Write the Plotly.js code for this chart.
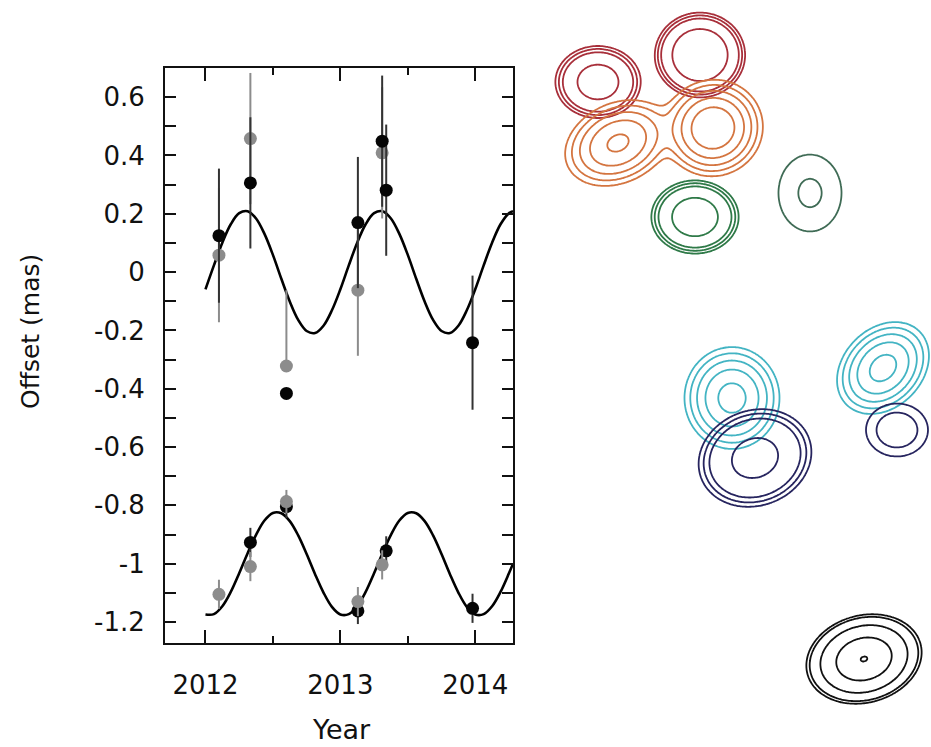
<!DOCTYPE html>
<html><head><meta charset="utf-8">
<script src="https://cdn.plot.ly/plotly-3.0.1.min.js"></script>
<style>html,body{margin:0;padding:0;background:#fff;}#chart{width:931px;height:747px;}</style>
</head><body><div id="chart"></div>
<script>
// ---------- time series data ----------
const yearsBlackTop  = [2012.10, 2012.333, 2012.60, 2013.13, 2013.31, 2013.34, 2013.98];
const offsetBlackTop = [0.125, 0.306, -0.416, 0.170, 0.449, 0.281, -0.242];
const errBlackTopPlus  = [0.23, 0.225, 0, 0.225, 0.225, 0.225, 0.23];
const errBlackTopMinus = [0.23, 0.225, 0, 0.225, 0.225, 0.225, 0.23];

const yearsGrayTop  = [2012.10, 2012.333, 2012.60, 2013.13, 2013.31];
const offsetGrayTop = [0.058, 0.458, -0.322, -0.062, 0.409];
const errGrayTopPlus  = [0.23, 0.225, 0.26, 0.225, 0.225];
const errGrayTopMinus = [0.23, 0.225, 0, 0.225, 0.225];

const yearsBlackLow  = [2012.333, 2012.60, 2013.13, 2013.34, 2013.98];
const offsetBlackLow = [-0.927, -0.804, -1.162, -0.956, -1.153];
const errBlackLow    = [0.05, 0.04, 0.045, 0.05, 0.05];

const yearsGrayLow  = [2012.10, 2012.333, 2012.60, 2013.13, 2013.31];
const offsetGrayLow = [-1.105, -1.010, -0.787, -1.130, -1.004];
const errGrayLow    = [0.05, 0.05, 0.04, 0.05, 0.05];

// model curves, every 1/16 year
const curveYears = [2012.0, 2012.0625, 2012.125, 2012.1875, 2012.25, 2012.3125, 2012.375, 2012.4375,
  2012.5, 2012.5625, 2012.625, 2012.6875, 2012.75, 2012.8125, 2012.875, 2012.9375,
  2013.0, 2013.0625, 2013.125, 2013.1875, 2013.25, 2013.3125, 2013.375, 2013.4375,
  2013.5, 2013.5625, 2013.625, 2013.6875, 2013.75, 2013.8125, 2013.875, 2013.9375,
  2014.0, 2014.0625, 2014.125, 2014.1875, 2014.25, 2014.28];
const curveOffsetTop = [-0.059, 0.023, 0.101, 0.164, 0.202, 0.209, 0.184, 0.131,
  0.059, -0.023, -0.101, -0.164, -0.202, -0.209, -0.184, -0.131,
  -0.059, 0.023, 0.101, 0.164, 0.202, 0.209, 0.184, 0.131,
  0.059, -0.023, -0.101, -0.164, -0.202, -0.209, -0.184, -0.131,
  -0.059, 0.023, 0.101, 0.164, 0.202, 0.209];
const curveOffsetLow = [-1.174, -1.173, -1.146, -1.097, -1.033, -0.964, -0.901, -0.852,
  -0.826, -0.827, -0.854, -0.903, -0.967, -1.036, -1.099, -1.148,
  -1.174, -1.173, -1.146, -1.097, -1.033, -0.964, -0.901, -0.852,
  -0.826, -0.827, -0.854, -0.903, -0.967, -1.036, -1.099, -1.148,
  -1.174, -1.173, -1.146, -1.097, -1.033, -1.0];

// ticks
const xTickVals = [2012, 2013, 2014];
const xTickText = ['2012', '2013', '2014'];
const xMinorVals = [2012.5, 2013.5];
const yTickVals = [0.6, 0.4, 0.2, 0, -0.2, -0.4, -0.6, -0.8, -1, -1.2];
const yTickText = ['0.6', '0.4', '0.2', '0', '-0.2', '-0.4', '-0.6', '-0.8', '-1', '-1.2'];
const yMinorVals = [0.5, 0.3, 0.1, -0.1, -0.3, -0.5, -0.7, -0.9, -1.1];

// ---------- contour map components (image maps on the right) ----------
const blobGroup = ['red', 'red', 'orange', 'orange', 'green', 'green2', 'cyan', 'navy', 'cyan', 'navy', 'black'];
const blobX     = [598, 700, 618, 713, 695, 810, 732, 755, 883, 897, 864];
const blobY     = [82, 55, 143, 128, 217, 193, 398, 458, 368, 430, 659];
const blobSU    = [17.4, 16.6, 23, 19.2, 17.3, 16.3, 19.3, 24.4, 21, 24, 23.9];
const blobSV    = [14.7, 15.6, 16.5, 18.4, 14.5, 19.9, 20.7, 20.2, 16, 20.5, 17.8];
const blobAngle = [0, 0, -25, -20, 0, 0, 0, -20, -45, 0, -15];
const blobPeak  = [1, 2, 0.9, 1.5, 1.2, 0.646, 1.03, 0.796, 1.03, 0.115, 1];

const groupNames  = ['red', 'orange', 'green', 'green2', 'cyan', 'navy', 'black'];
const groupColors = ['#a82f3a', '#d47540', '#2f7a48', '#3f6b55', '#43b4c3', '#27255f', '#111111'];
const groupLevels = [[0.05, 0.08, 0.13, 0.5], [0.05, 0.1, 0.2, 0.4, 0.8], [0.05, 0.08, 0.13, 0.5], [0.1, 0.5], [0.05, 0.1, 0.2, 0.4, 0.8], [0.05, 0.08, 0.13, 0.5], [0.05, 0.07, 0.18, 0.5, 0.99]];

// ---------- traces ----------
const traces = [];
const FONT = 'DejaVu Sans, Arial, sans-serif';

traces.push({x: curveYears, y: curveOffsetTop, type: 'scatter', mode: 'lines', line: {color: '#000', width: 2.6, shape: 'spline', smoothing: 1}, hoverinfo: 'skip'});
traces.push({x: curveYears, y: curveOffsetLow, type: 'scatter', mode: 'lines', line: {color: '#000', width: 2.6, shape: 'spline', smoothing: 1}, hoverinfo: 'skip'});

traces.push({x: yearsGrayTop, y: offsetGrayTop, type: 'scatter', mode: 'markers',
  marker: {color: '#8c8c8c', size: 13},
  error_y: {type: 'data', symmetric: false, array: errGrayTopPlus, arrayminus: errGrayTopMinus, color: '#8c8c8c', thickness: 2, width: 0}});
traces.push({x: yearsBlackTop, y: offsetBlackTop, type: 'scatter', mode: 'markers',
  marker: {color: '#050505', size: 13},
  error_y: {type: 'data', symmetric: false, array: errBlackTopPlus, arrayminus: errBlackTopMinus, color: '#333', thickness: 2, width: 0}});
traces.push({x: yearsBlackLow, y: offsetBlackLow, type: 'scatter', mode: 'markers',
  marker: {color: '#050505', size: 13},
  error_y: {type: 'data', array: errBlackLow, color: '#333', thickness: 2, width: 0}});
traces.push({x: yearsGrayLow, y: offsetGrayLow, type: 'scatter', mode: 'markers',
  marker: {color: '#8c8c8c', size: 13},
  error_y: {type: 'data', array: errGrayLow, color: '#8c8c8c', thickness: 2, width: 0}});

// contour maps
const STEP = 1.5;
groupNames.forEach((g, gi) => {
  const idx = [];
  blobGroup.forEach((b, i) => { if (b === g) idx.push(i); });
  let x0 = Infinity, x1 = -Infinity, y0 = Infinity, y1 = -Infinity;
  idx.forEach(i => {
    const r = 3.2 * Math.max(blobSU[i], blobSV[i]);
    x0 = Math.min(x0, blobX[i] - r); x1 = Math.max(x1, blobX[i] + r);
    y0 = Math.min(y0, blobY[i] - r); y1 = Math.max(y1, blobY[i] + r);
  });
  const xs = [], ys = [];
  for (let x = x0; x <= x1; x += STEP) xs.push(x);
  for (let y = y0; y <= y1; y += STEP) ys.push(y);
  const z = ys.map(y => xs.map(x => {
    let v = 0;
    idx.forEach(i => {
      const th = blobAngle[i] * Math.PI / 180;
      const dx = x - blobX[i], dy = y - blobY[i];
      const u = dx * Math.cos(th) + dy * Math.sin(th);
      const w = -dx * Math.sin(th) + dy * Math.cos(th);
      v += blobPeak[i] * Math.exp(-0.5 * (u * u / (blobSU[i] * blobSU[i]) + w * w / (blobSV[i] * blobSV[i])));
    });
    return v;
  }));
  groupLevels[gi].forEach(L => {
    traces.push({type: 'contour', x: xs, y: ys, z: z, xaxis: 'x2', yaxis: 'y2',
      autocontour: false, contours: {start: L, end: L, size: 1, coloring: 'lines'},
      line: {color: groupColors[gi], width: 1.8, smoothing: 1},
      colorscale: [[0, groupColors[gi]], [1, groupColors[gi]]],
      showscale: false, hoverinfo: 'skip'});
  });
});

const W = 931, H = 747;
const layout = {
  width: W, height: H,
  margin: {l: 0, r: 0, t: 0, b: 0},
  paper_bgcolor: '#fff', plot_bgcolor: 'rgba(0,0,0,0)',
  showlegend: false,
  font: {family: FONT, color: '#111'},
  xaxis: {
    domain: [165 / W, 513 / W], range: [2011.70, 2014.28],
    tickmode: 'array', tickvals: xTickVals, ticktext: xTickText,
    ticks: 'inside', ticklen: 13, tickwidth: 2, tickcolor: '#111',
    showline: true, linewidth: 2, linecolor: '#111', mirror: 'ticks',
    showgrid: false, zeroline: false,
    tickfont: {family: FONT, size: 26, color: '#111'}, ticklabelstandoff: 18,
    minor: {tickmode: 'array', tickvals: xMinorVals, ticks: 'inside', ticklen: 7, tickwidth: 2, tickcolor: '#111', showgrid: false}
  },
  yaxis: {
    domain: [1 - 643 / H, 1 - 68 / H], range: [-1.272, 0.70],
    tickmode: 'array', tickvals: yTickVals, ticktext: yTickText,
    ticks: 'inside', ticklen: 11, tickwidth: 2, tickcolor: '#111',
    showline: true, linewidth: 2, linecolor: '#111', mirror: 'ticks',
    showgrid: false, zeroline: false,
    tickfont: {family: FONT, size: 26, color: '#111'}, ticklabelstandoff: 13,
    minor: {tickmode: 'array', tickvals: yMinorVals, ticks: 'inside', ticklen: 11, tickwidth: 2, tickcolor: '#111', showgrid: false}
  },
  xaxis2: {domain: [540 / W, 1], range: [540, 931], visible: false, anchor: 'y2'},
  yaxis2: {domain: [0, 1], range: [747, 0], visible: false, anchor: 'x2'},
  annotations: [
    {text: 'Offset (mas)', xref: 'paper', yref: 'paper', x: 30 / W, y: 1 - 332 / H, showarrow: false,
     textangle: -90, font: {family: FONT, size: 25, color: '#111'}, xanchor: 'center', yanchor: 'middle'},
    {text: 'Year', xref: 'paper', yref: 'paper', x: 341 / W, y: 0, showarrow: false,
     font: {family: FONT, size: 27, color: '#111'}, xanchor: 'center', yanchor: 'bottom', yshift: 0}
  ]
};

Plotly.newPlot('chart', traces, layout, {staticPlot: true, displayModeBar: false});
</script></body></html>
